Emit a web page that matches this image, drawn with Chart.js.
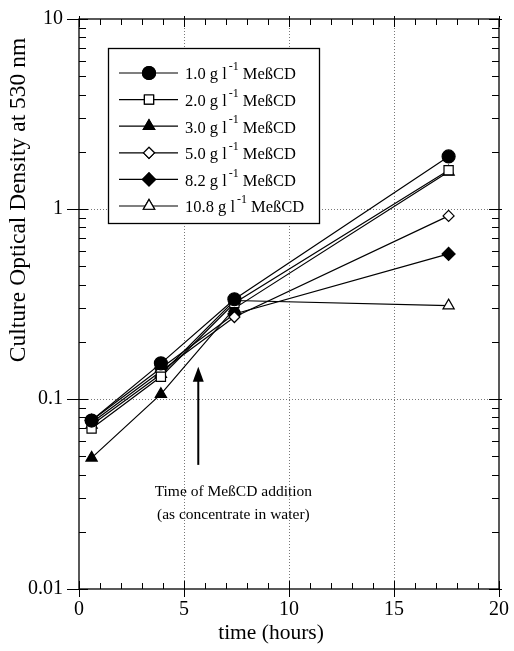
<!DOCTYPE html>
<html><head><meta charset="utf-8">
<script src="https://cdn.jsdelivr.net/npm/chart.js@4/dist/chart.umd.min.js"></script>
<style>html,body{margin:0;padding:0;background:#fff;} #wrap{width:514px;height:651px;position:relative;}</style>
</head><body><div id="wrap"><canvas id="c" width="514" height="651"></canvas></div>
<script>
// ---- data ----
const times = [0.6, 3.9, 7.4, 17.6];                 // hours
const concentrations = ['1.0', '2.0', '3.0', '5.0', '8.2', '10.8']; // g/l MeBCD
const od_1_0  = [0.077, 0.154, 0.335, 1.89];
const od_2_0  = [0.070, 0.131, 0.320, 1.60];
const od_3_0  = [0.049, 0.106, 0.300, 1.57];
const od_5_0  = [0.075, 0.140, 0.270, 0.92];
const od_8_2  = [0.077, 0.145, 0.280, 0.58];
const od_10_8 = [0.073, 0.135, 0.330, 0.31];
const xTickValues = [0, 5, 10, 15, 20];
const xTickLabels = ['0', '5', '10', '15', '20'];
const yTickValues = [0.01, 0.1, 1, 10];
const yTickLabels = ['0.01', '0.1', '1', '10'];
const additionTime = 5.68;          // arrow x (hours)
const arrowRange = [0.045, 0.148];  // arrow y span (OD)
const noteAnchor = [7.35, 0.0326];  // note text centre (hours, OD)
const noteLines = ['Time of MeßCD addition', '(as concentrate in water)'];

const seriesValues = [od_1_0, od_2_0, od_3_0, od_5_0, od_8_2, od_10_8];
const markerStyles = [
  {pointStyle: 'circle',   radius: 6.5, fill: '#000'},
  {pointStyle: 'rect',     radius: 6.5, fill: '#fff'},
  {pointStyle: 'triangle', radius: 6.5, fill: '#000'},
  {pointStyle: 'rectRot',  radius: 5.5, fill: '#fff'},
  {pointStyle: 'rectRot',  radius: 6.5, fill: '#000'},
  {pointStyle: 'triangle', radius: 6.5, fill: '#fff'}
];
const SERIF = '"Liberation Serif", "Times New Roman", serif';

const datasets = seriesValues.map((vals, i) => ({
  label: concentrations[i] + ' g l-1 MeßCD',
  data: times.map((t, j) => ({x: t, y: vals[j]})),
  borderColor: '#000',
  borderWidth: 1.2,
  pointStyle: markerStyles[i].pointStyle,
  pointRadius: markerStyles[i].radius,
  pointHoverRadius: markerStyles[i].radius,
  pointBackgroundColor: markerStyles[i].fill,
  pointBorderColor: '#000',
  pointBorderWidth: 1.2,
  fill: false,
  tension: 0
}));

const framePlugin = {
  id: 'frame',
  beforeDatasetsDraw(chart) {
    const {ctx, chartArea: a, scales: {x, y}} = chart;
    ctx.save();
    ctx.strokeStyle = '#777';
    ctx.lineWidth = 1;
    ctx.setLineDash([1, 2]);
    xTickValues.slice(1, -1).forEach(v => {
      const px = Math.round(x.getPixelForValue(v)) + 0.5;
      ctx.beginPath(); ctx.moveTo(px, a.top); ctx.lineTo(px, a.bottom); ctx.stroke();
    });
    yTickValues.slice(1, -1).forEach(v => {
      const py = Math.round(y.getPixelForValue(v)) + 0.5;
      ctx.beginPath(); ctx.moveTo(a.left, py); ctx.lineTo(a.right, py); ctx.stroke();
    });
    ctx.restore();
  },
  afterDatasetsDraw(chart) {
    const {ctx, chartArea: a, scales: {x, y}} = chart;
    ctx.save();
    ctx.strokeStyle = '#000';
    ctx.lineWidth = 1.3;
    ctx.setLineDash([]);
    ctx.strokeRect(a.left, a.top, a.right - a.left, a.bottom - a.top);
    ctx.lineWidth = 1;
    // x ticks
    for (let t = xTickValues[0]; t <= xTickValues[xTickValues.length - 1]; t++) {
      const px = Math.round(x.getPixelForValue(t)) + 0.5;
      const major = t % 5 === 0;
      ctx.beginPath();
      if (major) {
        ctx.moveTo(px, a.bottom - 8); ctx.lineTo(px, a.bottom + 8);
        ctx.moveTo(px, a.top + 8); ctx.lineTo(px, a.top - 3);
      } else {
        ctx.moveTo(px, a.bottom); ctx.lineTo(px, a.bottom - 6);
        ctx.moveTo(px, a.top); ctx.lineTo(px, a.top + 6);
      }
      ctx.stroke();
    }
    // y ticks (log)
    yTickValues.forEach((d, k) => {
      const py = Math.round(y.getPixelForValue(d)) + 0.5;
      ctx.beginPath();
      ctx.moveTo(a.left - 12, py); ctx.lineTo(a.left + 9, py);
      ctx.moveTo(a.right - 10, py); ctx.lineTo(a.right + 3, py);
      ctx.stroke();
      if (k < yTickValues.length - 1) {
        for (let m = 2; m <= 9; m++) {
          const pm = Math.round(y.getPixelForValue(d * m)) + 0.5;
          ctx.beginPath();
          ctx.moveTo(a.left, pm); ctx.lineTo(a.left + 7, pm);
          ctx.moveTo(a.right, pm); ctx.lineTo(a.right - 7, pm);
          ctx.stroke();
        }
      }
    });

    // annotation arrow
    const ax = x.getPixelForValue(additionTime);
    const yb = y.getPixelForValue(arrowRange[0]);
    const yt = y.getPixelForValue(arrowRange[1]);
    ctx.lineWidth = 2;
    ctx.beginPath(); ctx.moveTo(ax, yb); ctx.lineTo(ax, yt + 12); ctx.stroke();
    ctx.fillStyle = '#000';
    ctx.beginPath(); ctx.moveTo(ax, yt); ctx.lineTo(ax - 5.5, yt + 15); ctx.lineTo(ax + 5.5, yt + 15); ctx.closePath(); ctx.fill();
    // note text
    ctx.font = '15.5px ' + SERIF;
    ctx.textAlign = 'center'; ctx.textBaseline = 'middle';
    const nx = x.getPixelForValue(noteAnchor[0]);
    const ny = y.getPixelForValue(noteAnchor[1]);
    noteLines.forEach((s, i) => ctx.fillText(s, nx, ny + i * 23));

    // legend
    const L = {x: 108, y: 48, w: 211, h: 175};
    ctx.fillStyle = '#fff';
    ctx.fillRect(L.x, L.y, L.w, L.h);
    ctx.lineWidth = 1.3; ctx.strokeStyle = '#000';
    ctx.strokeRect(L.x + 0.5, L.y + 0.5, L.w, L.h);
    chart.data.datasets.forEach((ds, i) => {
      const cy = 73 + i * 26.6;
      ctx.lineWidth = 1.2;
      ctx.beginPath(); ctx.moveTo(119, cy); ctx.lineTo(178, cy); ctx.stroke();
      ctx.fillStyle = ds.pointBackgroundColor;
      Chart.helpers.drawPoint(ctx, {pointStyle: ds.pointStyle, radius: ds.pointRadius, borderWidth: 1.2, rotation: 0}, 149, cy);
      ctx.fill(); ctx.stroke();
      ctx.fillStyle = '#000';
      ctx.textAlign = 'left'; ctx.textBaseline = 'middle';
      ctx.font = '16.5px ' + SERIF;
      let tx = 185;
      const p1 = concentrations[i] + ' g l';
      ctx.fillText(p1, tx, cy + 2); tx += ctx.measureText(p1).width + 2;
      ctx.font = '12px ' + SERIF;
      ctx.fillText('-1', tx, cy - 6); tx += ctx.measureText('-1').width;
      ctx.font = '16.5px ' + SERIF;
      ctx.fillText(' MeßCD', tx, cy + 2);
    });

    // axis titles
    ctx.fillStyle = '#000';
    ctx.font = '21.5px ' + SERIF;
    ctx.textAlign = 'center'; ctx.textBaseline = 'middle';
    ctx.fillText('time (hours)', 271, 633);
    ctx.save();
    ctx.font = '23.5px ' + SERIF;
    ctx.translate(19, 200);
    ctx.rotate(-Math.PI / 2);
    ctx.fillText('Culture Optical Density at 530 nm', 0, 0);
    ctx.restore();
    ctx.restore();
  }
};

new Chart(document.getElementById('c'), {
  type: 'line',
  data: {datasets},
  options: {
    responsive: false,
    animation: false,
    events: [],
    layout: {padding: {top: 19, right: 15, left: 0, bottom: 0}},
    plugins: {legend: {display: false}, tooltip: {enabled: false}},
    scales: {
      x: {
        type: 'linear', min: 0, max: 20,
        grid: {display: false, drawTicks: false},
        border: {display: false},
        afterFit(s) { s.height = 62; s.paddingLeft = 0; s.paddingRight = 0; },
        afterBuildTicks(s) { s.ticks = xTickValues.map(v => ({value: v})); },
        ticks: {
          padding: 9, color: '#000',
          font: {family: SERIF, size: 20},
          callback: (v) => { const k = xTickValues.indexOf(v); return k >= 0 ? xTickLabels[k] : null; }
        }
      },
      y: {
        type: 'logarithmic', min: 0.01, max: 10,
        grid: {display: false, drawTicks: false},
        border: {display: false},
        afterFit(s) { s.width = 79; s.paddingTop = 0; s.paddingBottom = 0; },
        afterBuildTicks(s) { s.ticks = yTickValues.map(v => ({value: v})); },
        ticks: {
          padding: 16, color: '#000',
          font: {family: SERIF, size: 20},
          callback: (v) => { const k = yTickValues.findIndex(d => Math.abs(d - v) / d < 1e-6); return k >= 0 ? yTickLabels[k] : null; }
        }
      }
    }
  },
  plugins: [framePlugin]
});
</script>
</body></html>
